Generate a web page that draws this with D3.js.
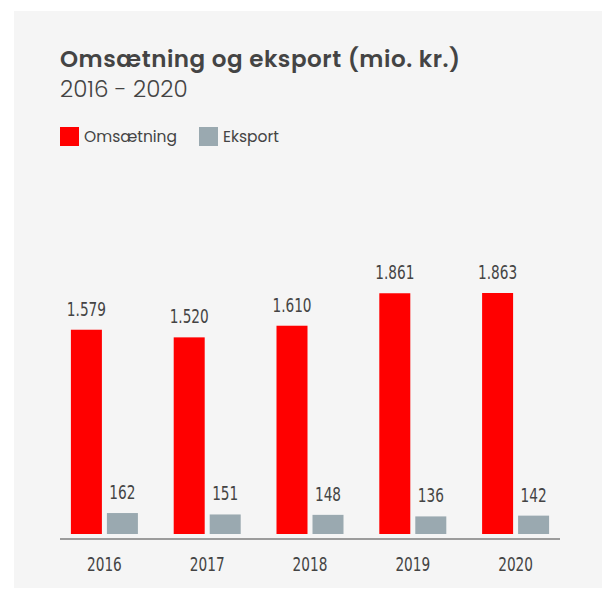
<!DOCTYPE html>
<html>
<head>
<meta charset="utf-8">
<script src="https://cdn.jsdelivr.net/npm/d3@7"></script>
<style>
  html, body { margin: 0; padding: 0; background: #fff; }
  svg { display: block; }
</style>
</head>
<body>
<div id="chart"></div>
<script>
const width = 602;
const height = 589;

const years = ["2016", "2017", "2018", "2019", "2020"];
const omsaetning = [1579, 1520, 1610, 1861, 1863];
const eksport = [162, 151, 148, 136, 142];
const seriesNames = ["Omsætning", "Eksport"];
const seriesColors = ["#ff0000", "#9aa9b0"];

const textColor = "#444";
const numFont = "'DejaVu Sans Condensed', 'DejaVu Sans', sans-serif";
const titleFont = "Poppins, 'Open Sans', 'Noto Sans', sans-serif";

const svg = d3.select("#chart")
  .append("svg")
  .attr("width", width)
  .attr("height", height);

// grey panel
svg.append("rect")
  .attr("x", 14)
  .attr("y", 11)
  .attr("width", width - 14)
  .attr("height", height - 12)
  .attr("fill", "#f5f5f5");

// title
svg.append("text")
  .attr("x", 60)
  .attr("y", 67)
  .attr("font-family", titleFont)
  .attr("font-weight", 600)
  .attr("font-size", 23)
  .attr("letter-spacing", 0.55)
  .attr("fill", textColor)
  .text("Omsætning og eksport (mio. kr.)");

svg.append("text")
  .attr("x", 60)
  .attr("y", 97)
  .attr("font-family", titleFont)
  .attr("font-weight", 300)
  .attr("font-size", 23)
  .attr("fill", textColor)
  .text("2016 - 2020");

// legend
const legendX = [60, 199];
seriesNames.forEach((name, i) => {
  svg.append("rect")
    .attr("x", legendX[i])
    .attr("y", 127)
    .attr("width", 19)
    .attr("height", 19)
    .attr("fill", seriesColors[i]);
  svg.append("text")
    .attr("x", legendX[i] + 24)
    .attr("y", 142)
    .attr("font-family", titleFont)
    .attr("font-size", 15.5)
    .attr("fill", textColor)
    .text(name);
});

// scales
const x = d3.scaleBand()
  .domain(years)
  .range([53, 567])
  .paddingInner(0)
  .paddingOuter(0);

const baseY = 534;
const y = d3.scaleLinear()
  .domain([0, 1863])
  .range([baseY, 293]);

const barW = 31;
const gap = 5;

const rows = years.map((yr, i) => ({ year: yr, values: [omsaetning[i], eksport[i]] }));

const fmt = v => d3.format(",")(v).replace(/,/g, ".");

const groups = svg.append("g")
  .selectAll("g")
  .data(rows)
  .join("g")
  .attr("transform", d => `translate(${x(d.year) + x.bandwidth() / 2},0)`);

const bars = groups.selectAll("g.bar")
  .data(d => d.values.map((v, i) => ({ v, i })))
  .join("g")
  .attr("class", "bar");

const offsetX = i => i === 0 ? -(barW + gap / 2) : gap / 2;

bars.append("rect")
  .attr("x", d => offsetX(d.i))
  .attr("y", d => y(d.v))
  .attr("width", barW)
  .attr("height", d => baseY - y(d.v))
  .attr("fill", d => seriesColors[d.i]);

bars.append("text")
  .attr("transform", d => `translate(${offsetX(d.i) + barW / 2},${y(d.v) - 14}) scale(0.8,1)`)
  .attr("text-anchor", "middle")
  .attr("font-family", numFont)
  .attr("font-size", 19)
  .attr("fill", textColor)
  .text(d => fmt(d.v));

// axis
const axis = svg.append("g")
  .attr("transform", `translate(0,${baseY + 5})`)
  .call(d3.axisBottom(x).tickSize(0).tickPadding(0));

axis.select(".domain").remove();
axis.append("line")
  .attr("x1", 60)
  .attr("x2", 560)
  .attr("stroke", textColor)
  .attr("stroke-width", 1.2);

axis.selectAll(".tick text")
  .attr("y", 0)
  .attr("dy", 0)
  .attr("transform", "translate(0,32) scale(0.8,1)")
  .attr("font-family", numFont)
  .attr("font-size", 19)
  .attr("fill", textColor);
</script>
</body>
</html>
